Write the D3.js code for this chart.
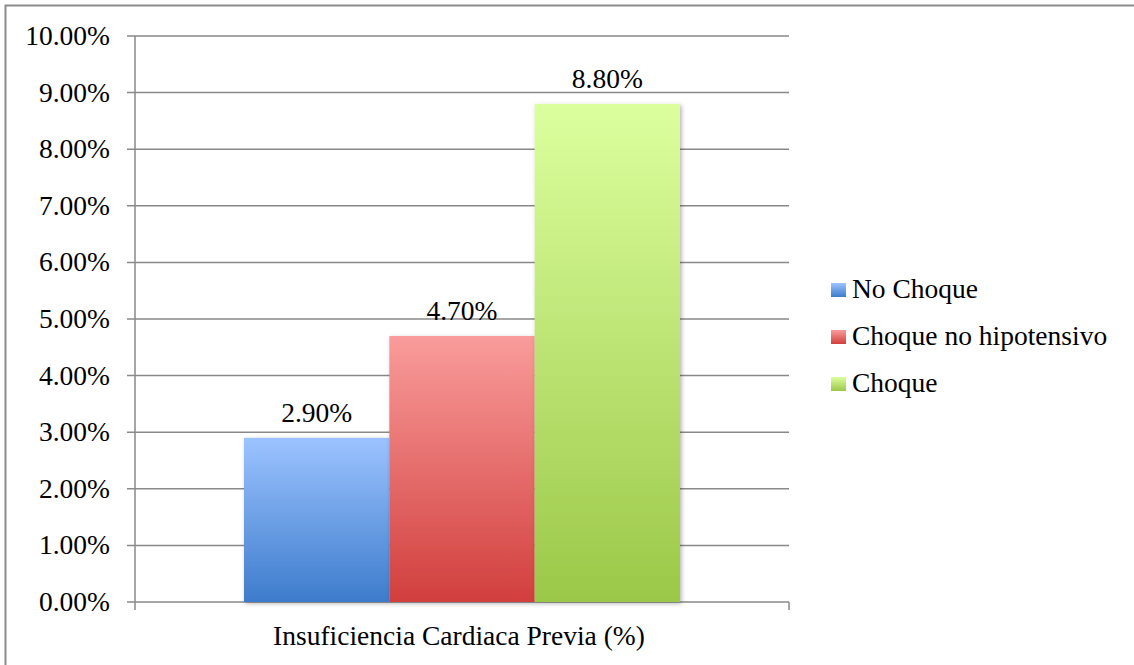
<!DOCTYPE html>
<html>
<head>
<meta charset="utf-8">
<script src="https://cdn.jsdelivr.net/npm/d3@7"></script>
<style>
  html, body { margin: 0; padding: 0; background: #fff; }
  svg { display: block; }
  text { font-family: "Liberation Serif", "DejaVu Serif", serif; fill: #000; }
</style>
</head>
<body>
<svg id="chart" width="1134" height="665"></svg>
<script>
// Data
const category = "Insuficiencia Cardiaca Previa (%)";
const seriesNames = ["No Choque", "Choque no hipotensivo", "Choque"];
const seriesValues = [2.9, 4.7, 8.8];
const yTicks = [0, 1, 2, 3, 4, 5, 6, 7, 8, 9, 10];

// Fill gradients per series: [top, bottom]
const seriesColors = [
  ["#9cc3ff", "#3d7ccc"],
  ["#f99c9b", "#d13f3d"],
  ["#dcff9e", "#9bc848"]
];

const svg = d3.select("#chart");
const W = 1134, H = 665;
const plot = { left: 135, right: 789, top: 36, bottom: 602 };
const fontSize = 27.5;

// Outer frame
svg.append("rect")
  .attr("x", 5.5).attr("y", 5.5)
  .attr("width", W + 10).attr("height", H + 10)
  .attr("fill", "#fff").attr("stroke", "#8c8c8c").attr("stroke-width", 2);

const defs = svg.append("defs");
seriesColors.forEach((c, i) => {
  const g = defs.append("linearGradient")
    .attr("id", "grad" + i).attr("x1", 0).attr("y1", 0).attr("x2", 0).attr("y2", 1);
  g.append("stop").attr("offset", "0%").attr("stop-color", c[0]);
  g.append("stop").attr("offset", "100%").attr("stop-color", c[1]);
});
const shadow = defs.append("filter").attr("id", "shadow")
  .attr("x", "-10%").attr("y", "-10%").attr("width", "130%").attr("height", "130%");
shadow.append("feDropShadow")
  .attr("dx", 1.5).attr("dy", 1.5).attr("stdDeviation", 2)
  .attr("flood-color", "#000").attr("flood-opacity", 0.3);

const y = d3.scaleLinear().domain([0, 10]).range([plot.bottom, plot.top]);
const x0 = d3.scaleBand().domain([category]).range([plot.left, plot.right])
  .paddingInner(0).paddingOuter(0);
// Gap width 150%: bars occupy 3/(3+1.5) of the band
const groupWidth = x0.bandwidth() * 3 / 4.5;
const x1 = d3.scaleBand().domain(seriesNames)
  .range([x0(category) + (x0.bandwidth() - groupWidth) / 2,
          x0(category) + (x0.bandwidth() + groupWidth) / 2]);

// Gridlines
const gridColor = "#898989";
svg.append("g").selectAll("line").data(yTicks).join("line")
  .attr("x1", plot.left - 8).attr("x2", plot.right)
  .attr("y1", d => y(d)).attr("y2", d => y(d))
  .attr("stroke", gridColor).attr("stroke-width", 1.5);

// Y axis
svg.append("line")
  .attr("x1", plot.left).attr("x2", plot.left)
  .attr("y1", plot.top).attr("y2", plot.bottom + 8)
  .attr("stroke", gridColor).attr("stroke-width", 1.5);
svg.append("line")
  .attr("x1", plot.right).attr("x2", plot.right)
  .attr("y1", plot.bottom).attr("y2", plot.bottom + 8)
  .attr("stroke", gridColor).attr("stroke-width", 1.5);

// Y tick labels
svg.append("g").selectAll("text").data(yTicks).join("text")
  .attr("x", 110).attr("y", d => y(d) + 9)
  .attr("text-anchor", "end")
  .attr("font-size", fontSize)
  .text(d => d.toFixed(2) + "%");

// Bars
svg.append("g").selectAll("rect").data(seriesValues).join("rect")
  .attr("x", (d, i) => x1(seriesNames[i]))
  .attr("width", x1.bandwidth())
  .attr("y", d => y(d))
  .attr("height", d => y(0) - y(d))
  .attr("fill", (d, i) => `url(#grad${i})`)
  .attr("filter", "url(#shadow)");

// Value labels
svg.append("g").selectAll("text").data(seriesValues).join("text")
  .attr("x", (d, i) => x1(seriesNames[i]) + x1.bandwidth() / 2)
  .attr("y", d => y(d) - 16)
  .attr("text-anchor", "middle")
  .attr("font-size", fontSize)
  .text(d => d.toFixed(2) + "%");

// Category label
svg.append("text")
  .attr("x", x0(category) + x0.bandwidth() / 2 - 3)
  .attr("y", 645)
  .attr("text-anchor", "middle")
  .attr("font-size", fontSize)
  .text(category);

// Legend
const legend = svg.append("g").attr("transform", "translate(831,283)");
const items = legend.selectAll("g").data(seriesNames).join("g")
  .attr("transform", (d, i) => `translate(0,${i * 47})`);
items.append("rect")
  .attr("width", 15).attr("height", 14)
  .attr("fill", (d, i) => `url(#grad${i})`);
items.append("text")
  .attr("x", 21).attr("y", 15)
  .attr("font-size", fontSize)
  .text(d => d);
</script>
</body>
</html>
